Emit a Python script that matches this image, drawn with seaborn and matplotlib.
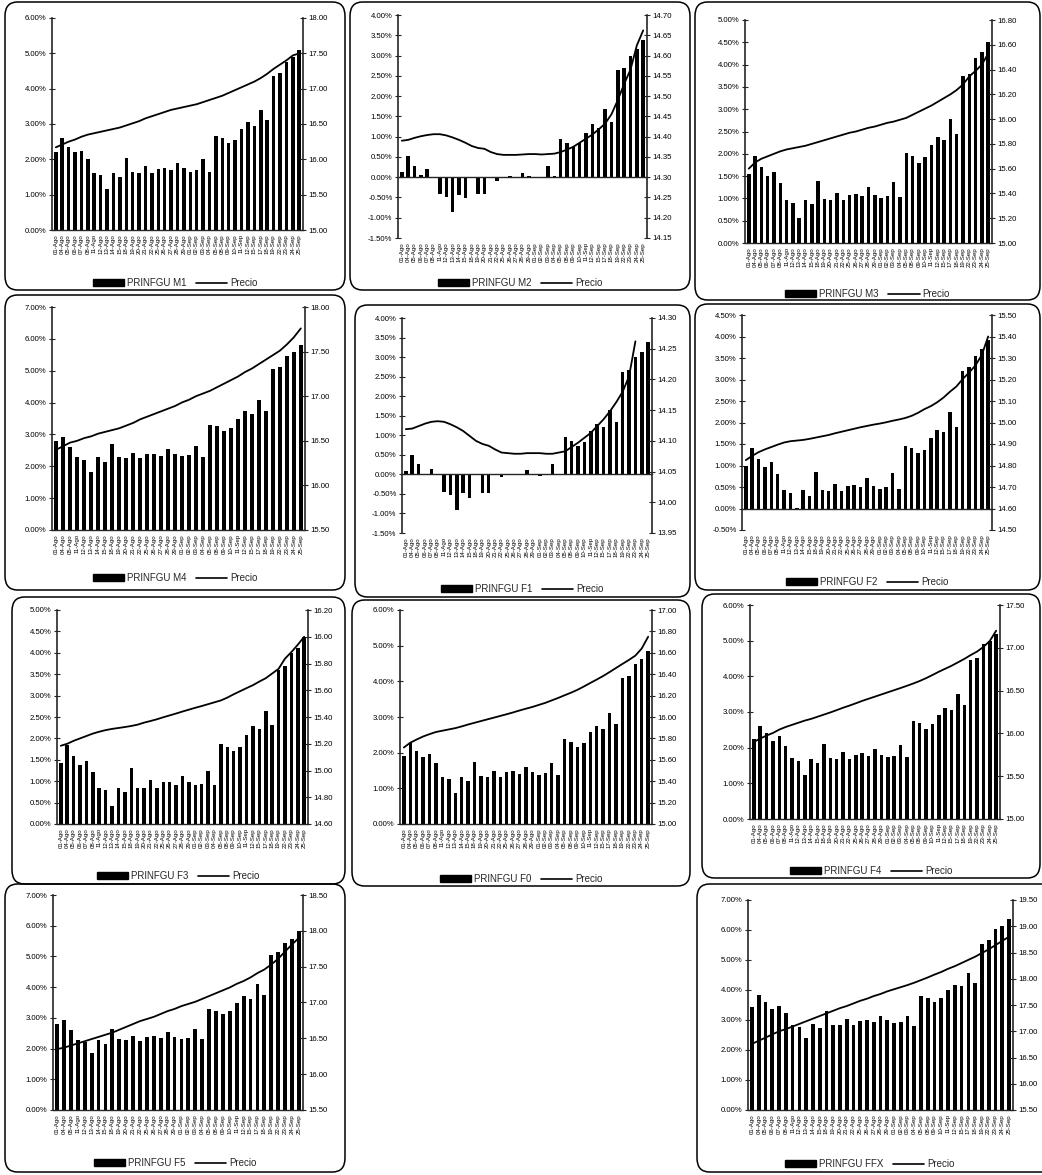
import numpy as np
import pandas as pd
import matplotlib
matplotlib.use("Agg")
import matplotlib.pyplot as plt
import seaborn as sns
from matplotlib.patches import FancyBboxPatch, Patch
from matplotlib.lines import Line2D
from matplotlib.ticker import FuncFormatter

sns.set_style("white")
plt.rcParams["font.family"] = ["Liberation Sans", "DejaVu Sans"]

# ---------------- data ----------------
FECHAS_39 = ["01-Ago", "04-Ago", "05-Ago", "06-Ago", "07-Ago", "08-Ago", "11-Ago", "12-Ago",
             "13-Ago", "14-Ago", "15-Ago", "18-Ago", "19-Ago", "20-Ago", "21-Ago", "22-Ago",
             "25-Ago", "26-Ago", "27-Ago", "28-Ago", "29-Ago", "01-Sep", "02-Sep", "03-Sep",
             "04-Sep", "05-Sep", "08-Sep", "09-Sep", "10-Sep", "11-Sep", "12-Sep", "15-Sep",
             "17-Sep", "18-Sep", "19-Sep", "22-Sep", "23-Sep", "24-Sep", "25-Sep"]
FECHAS_36 = ["01-Ago", "04-Ago", "05-Ago", "11-Ago", "12-Ago",
             "13-Ago", "14-Ago", "15-Ago", "18-Ago", "19-Ago", "20-Ago", "21-Ago", "22-Ago",
             "25-Ago", "26-Ago", "27-Ago", "28-Ago", "29-Ago", "01-Sep", "02-Sep", "03-Sep",
             "04-Sep", "05-Sep", "08-Sep", "09-Sep", "10-Sep", "11-Sep", "12-Sep", "15-Sep",
             "17-Sep", "18-Sep", "19-Sep", "22-Sep", "23-Sep", "24-Sep", "25-Sep"]

M1_VAL = [2.20, 2.60, 2.35, 2.20, 2.25, 2.00, 1.60, 1.55, 1.15, 1.60, 1.50, 2.05, 1.65, 1.60, 1.80, 1.60,
          1.72, 1.75, 1.70, 1.90, 1.75, 1.65, 1.70, 2.00, 1.65, 2.65, 2.60, 2.45, 2.55, 2.85, 3.05, 2.95,
          3.40, 3.10, 4.35, 4.45, 4.75, 4.90, 5.10]
M1_PRECIO = [16.17, 16.21, 16.25, 16.28, 16.32, 16.35, 16.37, 16.39, 16.41, 16.43, 16.45, 16.48, 16.51,
             16.54, 16.58, 16.61, 16.64, 16.67, 16.70, 16.72, 16.74, 16.76, 16.78, 16.81, 16.84, 16.87,
             16.90, 16.94, 16.98, 17.02, 17.06, 17.10, 17.15, 17.21, 17.28, 17.34, 17.40, 17.47, 17.50]

M2_VAL = [0.12, 0.52, 0.27, 0.05, 0.20, 0.00, -0.42, -0.50, -0.85, -0.45, -0.52, 0.00, -0.42, -0.42,
          0.00, -0.10, 0.00, 0.02, 0.00, 0.10, 0.02, -0.03, 0.00, 0.28, 0.02, 0.93, 0.85, 0.75, 0.85,
          1.10, 1.30, 1.22, 1.68, 1.35, 2.65, 2.70, 3.00, 3.15, 3.38]
M2_PRECIO = [14.390, 14.392, 14.397, 14.401, 14.404, 14.406, 14.406, 14.403, 14.398, 14.392, 14.385,
             14.377, 14.372, 14.370, 14.362, 14.357, 14.355, 14.355, 14.355, 14.356, 14.357, 14.357,
             14.356, 14.357, 14.358, 14.362, 14.368, 14.375, 14.385, 14.395, 14.405, 14.418, 14.432,
             14.455, 14.490, 14.530, 14.565, 14.625, 14.662]

M3_VAL = [1.55, 1.95, 1.70, 1.50, 1.60, 1.35, 0.97, 0.90, 0.55, 0.97, 0.88, 1.40, 0.98, 0.97, 1.12, 0.97,
          1.08, 1.10, 1.05, 1.25, 1.08, 1.00, 1.05, 1.37, 1.03, 2.02, 1.95, 1.80, 1.93, 2.20, 2.38, 2.30,
          2.78, 2.45, 3.75, 3.80, 4.15, 4.28, 4.50]
M3_PRECIO = [15.60, 15.65, 15.68, 15.70, 15.72, 15.74, 15.755, 15.765, 15.775, 15.785, 15.80, 15.815,
             15.83, 15.845, 15.86, 15.875, 15.89, 15.90, 15.915, 15.93, 15.94, 15.955, 15.97, 15.98,
             15.995, 16.01, 16.035, 16.06, 16.085, 16.11, 16.14, 16.17, 16.20, 16.235, 16.28, 16.345,
             16.39, 16.44, 16.53]

M4_VAL = [2.80, 2.93, 2.62, 2.28, 2.20, 1.83, 2.28, 2.15, 2.70, 2.28, 2.25, 2.42, 2.27, 2.37, 2.40, 2.33,
          2.55, 2.40, 2.32, 2.35, 2.65, 2.30, 3.30, 3.25, 3.12, 3.20, 3.50, 3.72, 3.65, 4.08, 3.75, 5.05,
          5.12, 5.45, 5.60, 5.80]
M4_PRECIO = [16.40, 16.44, 16.48, 16.50, 16.53, 16.55, 16.58, 16.60, 16.62, 16.64, 16.67, 16.70, 16.74,
             16.77, 16.80, 16.83, 16.86, 16.89, 16.93, 16.96, 17.00, 17.03, 17.06, 17.10, 17.14, 17.18,
             17.22, 17.27, 17.31, 17.36, 17.41, 17.46, 17.51, 17.58, 17.66, 17.76]

F1_VAL = [0.08, 0.50, 0.27, 0.00, 0.15, 0.00, -0.45, -0.52, -0.92, -0.47, -0.60, 0.00, -0.47, -0.47,
          0.00, -0.08, 0.00, 0.00, 0.00, 0.12, 0.00, -0.05, -0.02, 0.27, 0.00, 0.95, 0.85, 0.72, 0.82,
          1.10, 1.30, 1.20, 1.65, 1.35, 2.62, 2.68, 3.00, 3.12, 3.38]
F1_PRECIO = [14.119, 14.120, 14.124, 14.128, 14.131, 14.132, 14.131, 14.127, 14.122, 14.116, 14.108,
             14.100, 14.095, 14.092, 14.086, 14.081, 14.080, 14.079, 14.079, 14.080, 14.080, 14.080,
             14.079, 14.079, 14.081, 14.083, 14.090, 14.097, 14.105, 14.113, 14.124, 14.135, 14.148,
             14.163, 14.180, 14.205, 14.262, np.nan, np.nan]

F2_VAL = [1.00, 1.40, 1.15, 0.97, 1.08, 0.80, 0.42, 0.35, 0.02, 0.42, 0.28, 0.85, 0.43, 0.40, 0.58, 0.40,
          0.52, 0.55, 0.50, 0.70, 0.53, 0.45, 0.50, 0.82, 0.45, 1.45, 1.40, 1.30, 1.37, 1.65, 1.82, 1.78,
          2.25, 1.90, 3.20, 3.30, 3.55, 3.72, 3.92]
F2_PRECIO = [14.825, 14.845, 14.862, 14.875, 14.886, 14.897, 14.907, 14.913, 14.916, 14.919, 14.924,
             14.930, 14.936, 14.942, 14.950, 14.957, 14.964, 14.971, 14.978, 14.984, 14.990, 14.995,
             15.001, 15.008, 15.014, 15.021, 15.031, 15.045, 15.062, 15.076, 15.094, 15.116, 15.143,
             15.167, 15.202, 15.232, 15.265, 15.314, 15.400]

F3_VAL = [1.42, 1.85, 1.60, 1.38, 1.48, 1.22, 0.85, 0.80, 0.42, 0.85, 0.75, 1.30, 0.85, 0.83, 1.02, 0.85,
          0.97, 0.98, 0.92, 1.13, 0.97, 0.90, 0.93, 1.25, 0.90, 1.88, 1.80, 1.70, 1.80, 2.08, 2.30, 2.22,
          2.65, 2.32, 3.60, 3.68, 4.00, 4.12, 4.38]
F3_PRECIO = [15.185, 15.200, 15.222, 15.240, 15.258, 15.276, 15.290, 15.302, 15.311, 15.318, 15.325,
             15.333, 15.343, 15.358, 15.370, 15.383, 15.398, 15.412, 15.426, 15.441, 15.455, 15.469,
             15.482, 15.496, 15.510, 15.524, 15.545, 15.570, 15.593, 15.616, 15.638, 15.665, 15.690,
             15.725, 15.760, 15.836, 15.885, 15.940, 16.000]

F0_VAL = [1.90, 2.28, 2.05, 1.87, 1.97, 1.70, 1.33, 1.25, 0.88, 1.32, 1.20, 1.75, 1.35, 1.33, 1.50, 1.32,
          1.45, 1.48, 1.40, 1.60, 1.45, 1.38, 1.43, 1.70, 1.38, 2.37, 2.30, 2.15, 2.27, 2.57, 2.75, 2.65,
          3.12, 2.80, 4.10, 4.15, 4.50, 4.62, 4.85]
F0_PRECIO = [15.715, 15.760, 15.790, 15.818, 15.840, 15.860, 15.872, 15.884, 15.896, 15.912, 15.930,
             15.946, 15.962, 15.978, 15.994, 16.010, 16.026, 16.043, 16.061, 16.078, 16.094, 16.113,
             16.132, 16.155, 16.178, 16.203, 16.227, 16.254, 16.285, 16.318, 16.350, 16.383, 16.420,
             16.458, 16.496, 16.533, 16.573, 16.640, 16.750]

F4_VAL = [2.25, 2.62, 2.40, 2.20, 2.32, 2.05, 1.70, 1.62, 1.22, 1.68, 1.58, 2.10, 1.70, 1.67, 1.87, 1.67,
          1.80, 1.85, 1.77, 1.97, 1.80, 1.73, 1.77, 2.08, 1.75, 2.75, 2.68, 2.52, 2.65, 2.92, 3.10, 3.05,
          3.50, 3.20, 4.45, 4.52, 4.90, 5.00, 5.20]
F4_PRECIO = [15.900, 15.940, 15.975, 16.005, 16.045, 16.075, 16.100, 16.125, 16.150, 16.170, 16.195,
             16.220, 16.245, 16.272, 16.300, 16.325, 16.352, 16.380, 16.405, 16.430, 16.455, 16.480,
             16.505, 16.530, 16.556, 16.583, 16.612, 16.645, 16.682, 16.720, 16.755, 16.790, 16.830,
             16.870, 16.915, 16.956, 17.010, 17.080, 17.200]

F5_VAL = [2.80, 2.93, 2.62, 2.28, 2.20, 1.85, 2.28, 2.15, 2.65, 2.30, 2.28, 2.42, 2.25, 2.38, 2.40, 2.35,
          2.55, 2.38, 2.32, 2.35, 2.65, 2.32, 3.30, 3.22, 3.12, 3.22, 3.50, 3.70, 3.60, 4.10, 3.75, 5.05,
          5.15, 5.45, 5.58, 5.82]
F5_PRECIO = [16.35, 16.37, 16.40, 16.43, 16.46, 16.49, 16.52, 16.55, 16.58, 16.62, 16.66, 16.70, 16.74,
             16.77, 16.80, 16.84, 16.88, 16.91, 16.95, 16.98, 17.01, 17.05, 17.09, 17.13, 17.17, 17.21,
             17.26, 17.30, 17.35, 17.41, 17.46, 17.53, 17.61, 17.71, 17.81, 17.90]

FFX_VAL = [3.45, 3.85, 3.60, 3.38, 3.48, 3.22, 2.82, 2.78, 2.40, 2.88, 2.75, 3.30, 2.85, 2.85, 3.02, 2.85,
           2.97, 3.00, 2.95, 3.15, 3.00, 2.90, 2.95, 3.15, 2.80, 3.80, 3.72, 3.60, 3.72, 4.00, 4.18, 4.12,
           4.58, 4.25, 5.55, 5.68, 6.02, 6.12, 6.38]
FFX_PRECIO = [16.76, 16.82, 16.88, 16.94, 17.00, 17.04, 17.09, 17.14, 17.19, 17.24, 17.29, 17.34, 17.39,
              17.44, 17.48, 17.53, 17.58, 17.62, 17.67, 17.71, 17.76, 17.80, 17.84, 17.88, 17.925, 17.975,
              18.025, 18.08, 18.13, 18.19, 18.24, 18.30, 18.36, 18.42, 18.49, 18.56, 18.64, 18.72, 18.80]

SERIES = ["PRINFGU M1", "PRINFGU M2", "PRINFGU M3", "PRINFGU M4", "PRINFGU F1", "PRINFGU F2",
          "PRINFGU F3", "PRINFGU F0", "PRINFGU F4", "PRINFGU F5", "PRINFGU FFX"]
LINEA = "Precio"

# left axis (min, max, step) and right axis (min, max, step)
Y_LEFT = [(0, 6, 1), (-1.5, 4, 0.5), (0, 5, 0.5), (0, 7, 1), (-1.5, 4, 0.5), (-0.5, 4.5, 0.5),
          (0, 5, 0.5), (0, 6, 1), (0, 6, 1), (0, 7, 1), (0, 7, 1)]
Y_RIGHT = [(15.0, 18.0, 0.5), (14.15, 14.70, 0.05), (15.0, 16.8, 0.2), (15.5, 18.0, 0.5),
           (13.95, 14.30, 0.05), (14.5, 15.5, 0.1), (14.6, 16.2, 0.2), (15.0, 17.0, 0.2),
           (15.0, 17.5, 0.5), (15.5, 18.5, 0.5), (15.5, 19.5, 0.5)]

VALUES = [M1_VAL, M2_VAL, M3_VAL, M4_VAL, F1_VAL, F2_VAL, F3_VAL, F0_VAL, F4_VAL, F5_VAL, FFX_VAL]
PRECIOS = [M1_PRECIO, M2_PRECIO, M3_PRECIO, M4_PRECIO, F1_PRECIO, F2_PRECIO, F3_PRECIO, F0_PRECIO,
           F4_PRECIO, F5_PRECIO, FFX_PRECIO]
FECHAS = [FECHAS_39, FECHAS_39, FECHAS_39, FECHAS_36, FECHAS_39, FECHAS_39, FECHAS_39, FECHAS_39,
          FECHAS_39, FECHAS_36, FECHAS_39]

# ---------------- layout (pixels) ----------------
W, H = 1042, 1175
BOXES = [(5, 2, 345, 290), (350, 2, 690, 290), (695, 2, 1040, 300),
         (5, 295, 345, 590), (355, 305, 690, 597), (695, 304, 1040, 590),
         (12, 597, 345, 884), (352, 600, 690, 886), (702, 594, 1040, 878),
         (5, 884, 345, 1172), (697, 884, 1060, 1172)]
AXES = [(52, 18, 303, 230), (398, 15, 647, 238), (745, 20, 992, 243),
        (52, 307, 305, 530), (402, 318, 652, 533), (742, 315, 992, 530),
        (57, 610, 308, 824), (400, 610, 652, 824), (750, 605, 1000, 819),
        (53, 895, 303, 1110), (748, 900, 1013, 1110)]
LEG_Y = [283, 283, 294, 578, 589, 582, 876, 879, 871, 1163, 1164]

fig = plt.figure(figsize=(W / 100, H / 100), dpi=100)
fig.patch.set_facecolor("white")

pct_fmt = FuncFormatter(lambda v, p: f"{v:.2f}%")
num_fmt = FuncFormatter(lambda v, p: f"{v:.2f}")

for k in range(len(SERIES)):
    vals, precio, fechas = VALUES[k], PRECIOS[k], FECHAS[k]
    (bx0, by0, bx1, by1) = BOXES[k]
    fig.patches.append(FancyBboxPatch((bx0 / W, 1 - by1 / H), (bx1 - bx0) / W, (by1 - by0) / H,
                                      boxstyle="round,pad=0,rounding_size=0.012",
                                      transform=fig.transFigure, fill=False, ec="black", lw=1.1))
    l, t, r, b = AXES[k]
    ax = fig.add_axes([l / W, 1 - b / H, (r - l) / W, (b - t) / H])
    n = len(vals)
    df = pd.DataFrame({"pos": np.arange(n), "valor": vals, "precio": precio, "fecha": fechas})
    sns.barplot(data=df, x="pos", y="valor", native_scale=True, color="black", saturation=1,
                width=0.55, linewidth=0, ax=ax)
    ymin, ymax, ystep = Y_LEFT[k]
    ax.set_ylim(ymin, ymax)
    ax.set_yticks(np.arange(ymin, ymax + ystep / 2, ystep))
    ax.yaxis.set_major_formatter(pct_fmt)
    ax.set_xlabel("")
    ax.set_ylabel("")
    for s in ["top", "right"]:
        ax.spines[s].set_visible(False)
    ax.spines["left"].set_linewidth(1.2)
    ax.spines["bottom"].set_linewidth(1.0)
    ax.spines["bottom"].set_position(("data", 0))
    ax.set_xticks(np.arange(n + 1) - 0.5)
    ax.tick_params(axis="x", direction="inout", length=3, width=0.7, labelbottom=False)
    ax.tick_params(axis="y", direction="inout", length=4, width=0.8, labelsize=5.6, pad=2,
                   labelcolor="black")

    sec = ax.secondary_xaxis("bottom")
    sec.set_xticks(np.arange(n), labels=list(df["fecha"]))
    sec.tick_params(length=0, labelsize=4.4, pad=3, labelrotation=90, labelcolor="black")
    for lab in sec.get_xticklabels():
        lab.set_verticalalignment("top")
    sec.spines["bottom"].set_visible(False)

    ax2 = ax.twinx()
    sns.lineplot(data=df, x="pos", y="precio", color="black", lw=1.3, ax=ax2)
    y2min, y2max, y2step = Y_RIGHT[k]
    ax2.set_ylim(y2min, y2max)
    ax2.set_yticks(np.arange(y2min, y2max + y2step / 2, y2step))
    ax2.yaxis.set_major_formatter(num_fmt)
    ax2.set_xlabel("")
    ax2.set_ylabel("")
    for s in ["top", "left", "bottom"]:
        ax2.spines[s].set_visible(False)
    ax2.spines["right"].set_linewidth(1.2)
    ax2.tick_params(axis="y", direction="inout", length=4, width=0.8, labelsize=5.6, pad=2,
                    labelcolor="black")
    ax.set_xlim(-0.6, n - 0.4)

    cx = (bx0 + min(bx1, W)) / 2
    handles = [Patch(facecolor="black", edgecolor="black"),
               Line2D([], [], color="black", lw=1.2)]
    ax.legend(handles, [SERIES[k], LINEA], loc="center", bbox_to_anchor=(cx / W, 1 - LEG_Y[k] / H),
              bbox_transform=fig.transFigure, ncol=2, frameon=False, fontsize=7,
              handlelength=3.2, handleheight=0.6, columnspacing=1.0, handletextpad=0.3)

fig.savefig("out.png", dpi=100, facecolor="white")
